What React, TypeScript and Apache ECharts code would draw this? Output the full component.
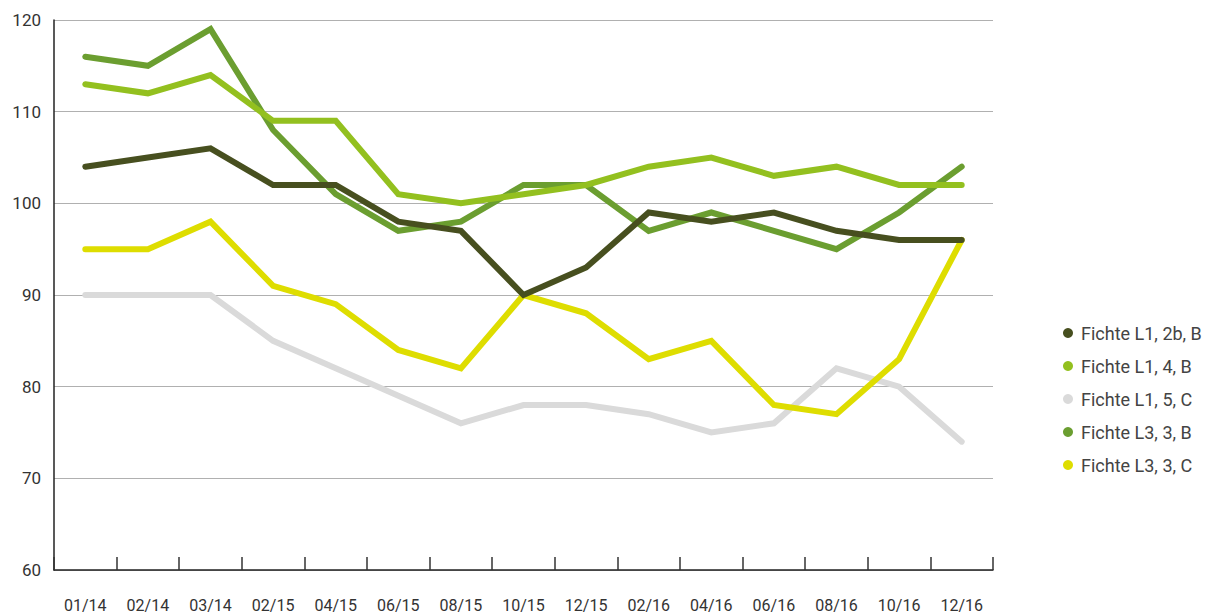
import React, { useEffect, useRef } from "react";
import * as echarts from "echarts";

const categories = ["01/14", "02/14", "03/14", "02/15", "04/15", "06/15", "08/15", "10/15", "12/15", "02/16", "04/16", "06/16", "08/16", "10/16", "12/16"];
const l1_2b_B = [104, 105, 106, 102, 102, 98, 97, 90, 93, 99, 98, 99, 97, 96, 96];
const l1_4_B = [113, 112, 114, 109, 109, 101, 100, 101, 102, 104, 105, 103, 104, 102, 102];
const l1_5_C = [90, 90, 90, 85, 82, 79, 76, 78, 78, 77, 75, 76, 82, 80, 74];
const l3_3_B = [116, 115, 119, 108, 101, 97, 98, 102, 102, 97, 99, 97, 95, 99, 104];
const l3_3_C = [95, 95, 98, 91, 89, 84, 82, 90, 88, 83, 85, 78, 77, 83, 96];
const seriesNames = ["Fichte L1, 2b, B", "Fichte L1, 4, B", "Fichte L1, 5, C", "Fichte L3, 3, B", "Fichte L3, 3, C"];
const seriesData = [l1_2b_B, l1_4_B, l1_5_C, l3_3_B, l3_3_C];
const colors = ["#474f1f", "#93c01f", "#dadada", "#6b9e30", "#dedd00"];
const zOrder = [6, 5, 2, 4, 3];

export default function App() {
  const ref = useRef<HTMLDivElement>(null);
  useEffect(() => {
    if (!ref.current) return;
    const chart = echarts.init(ref.current, undefined, { renderer: "svg" });
    const font = "Roboto, sans-serif";
    chart.setOption({
      animation: false,
      color: colors,
      textStyle: { fontFamily: font },
      grid: { left: 54, right: 225, top: 20, bottom: 44, containLabel: false, outerBoundsMode: "none" },
      legend: {
        orient: "vertical",
        left: 1058,
        top: 319,
        icon: "circle",
        itemWidth: 10,
        itemHeight: 10,
        itemGap: 15,
        data: seriesNames,
        textStyle: { fontSize: 18, color: "#444", fontFamily: font, padding: [0, 0, 0, 3] },
      },
      xAxis: {
        type: "category",
        data: categories,
        boundaryGap: true,
        axisLine: { show: true, lineStyle: { color: "#222", width: 1.5 } },
        axisTick: { show: true, inside: true, length: 13, interval: 0, lineStyle: { color: "#333", width: 1.5 } },
        axisLabel: { interval: 0, margin: 27, fontSize: 16, color: "#333", fontFamily: font },
      },
      yAxis: {
        type: "value",
        min: 60,
        max: 120,
        interval: 10,
        axisLine: { show: true, lineStyle: { color: "#222", width: 1.5 } },
        axisTick: { show: false },
        splitLine: { show: true, lineStyle: { color: "#b0b0b0", width: 1 } },
        axisLabel: { margin: 13, fontSize: 17, color: "#333", fontFamily: font },
      },
      series: seriesNames.map((name, i) => ({
        name,
        type: "line",
        data: seriesData[i],
        z: zOrder[i],
        symbol: "none",
        lineStyle: { width: 6, color: colors[i], cap: "round", join: "miter" },
        itemStyle: { color: colors[i] },
      })),
    });
    return () => chart.dispose();
  }, []);
  return <div ref={ref} style={{ position: "absolute", left: 0, top: 0, width: 1218, height: 614 }} />;
}
